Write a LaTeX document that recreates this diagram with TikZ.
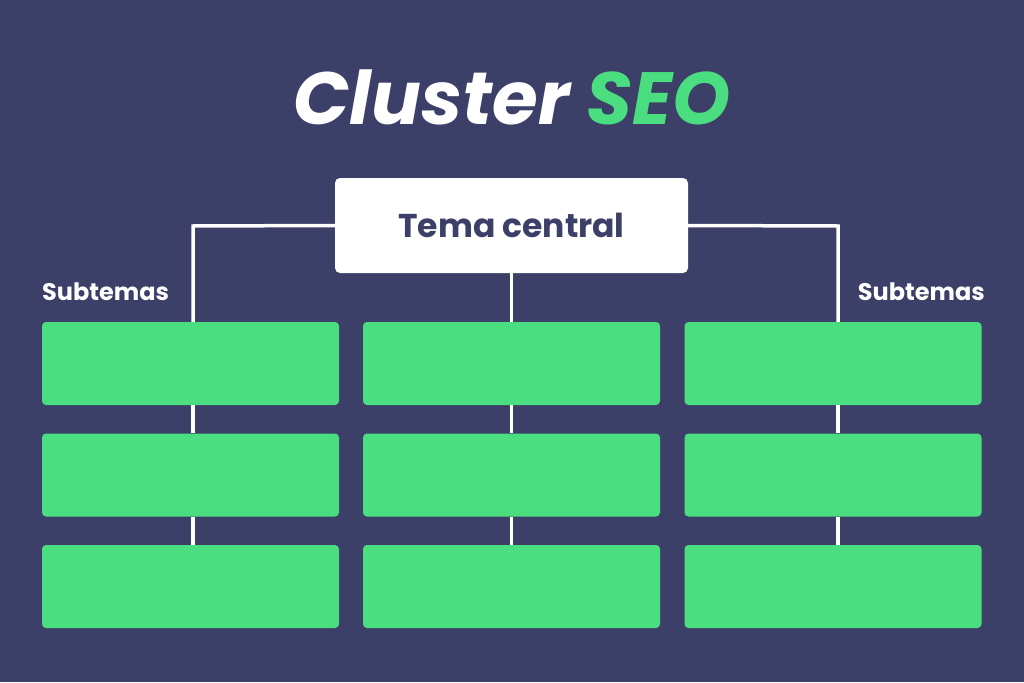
\documentclass[tikz,border=0pt]{standalone}
\usepackage{fontspec}
\setmainfont{Poppins}
\definecolor{bgnavy}{HTML}{3C3F68}
\definecolor{leafgreen}{HTML}{4ADE80}
\definecolor{titlegreen}{HTML}{4ADE80}
\tikzset{
  leaf/.style={fill=leafgreen,rounded corners=4pt,minimum width=297pt,minimum height=83pt,inner sep=0pt},
  hub/.style={fill=white,rounded corners=5pt,minimum width=353pt,minimum height=95pt,inner sep=0pt,
    text=bgnavy,font=\fontsize{33}{40}\selectfont\bfseries},
  link/.style={white,line width=3.5pt},
  tag/.style={text=white,font=\fontsize{24}{28}\selectfont\bfseries,inner sep=0pt}
}
\begin{document}
\begin{tikzpicture}[x=1pt,y=-1pt]
\fill[bgnavy] (0,0) rectangle (1024,682);
\useasboundingbox (0,0) rectangle (1024,682);

% title
\node[text=white] (title) at (512,97) {\fontsize{74}{86}\selectfont\bfseries\itshape Cluster \textcolor{titlegreen}{SEO}};

% central topic
\node[hub] (center) at (511.5,225.5) {Tema central};

% subtopics
\foreach \c/\x in {l/190.5,m/511.5,r/833} {
  \foreach \r/\y in {1/363.5,2/475,3/586.5} {
    \node[leaf] (\c\r) at (\x,\y) {};
  }
}

% connectors
\coordinate (lk) at (193,226);
\coordinate (rk) at (838,226);
\draw[link] (center.west) -- (lk) -- (lk |- l1.north);
\draw[link] (center.east) -- (rk) -- (rk |- r1.north);
\draw[link] (center.south) -- (m1.north);
\foreach \c/\xx in {l/193,m/511.5,r/838} {
  \draw[link] (\xx,0 |- \c1.south) -- (\xx,0 |- \c2.north);
  \draw[link] (\xx,0 |- \c2.south) -- (\xx,0 |- \c3.north);
}

% labels
\node[tag,anchor=west] (tagl) at (42,292) {Subtemas};
\node[tag,anchor=east] (tagr) at (985,292) {Subtemas};
\end{tikzpicture}
\end{document}
